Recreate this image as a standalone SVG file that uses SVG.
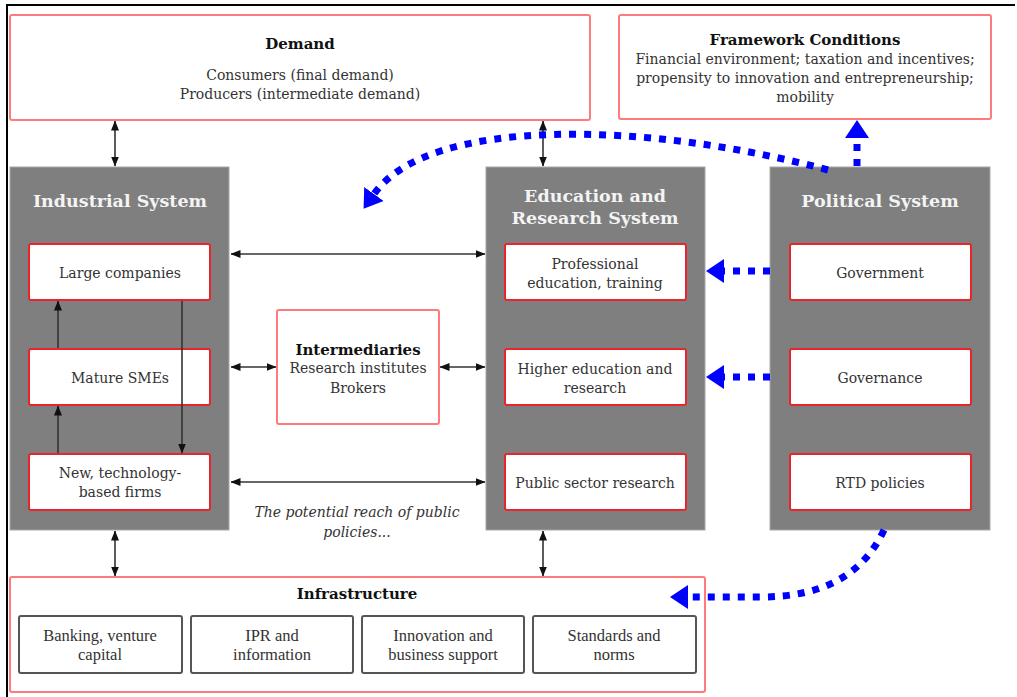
<svg xmlns="http://www.w3.org/2000/svg" width="1017" height="697" viewBox="0 0 1017 697">
<defs>
<style>
.outer{fill:#fff;stroke:#ff7b7b;stroke-width:2}
.grey{fill:#7f7f7f;stroke:#a8a8a8;stroke-width:1}
.inner{fill:#fff;stroke:#e8262a;stroke-width:2}
.infra{fill:#fff;stroke:#555;stroke-width:2}
.t{font-family:"DejaVu Serif","Liberation Serif",serif;font-size:14px;fill:#333;text-anchor:middle;dominant-baseline:central}
.h{font-family:"DejaVu Serif","Liberation Serif",serif;font-size:15px;font-weight:bold;fill:#111;text-anchor:middle;dominant-baseline:central}
.gh{font-family:"DejaVu Serif","Liberation Serif",serif;font-size:17.5px;font-weight:bold;fill:#f4f4f4;text-anchor:middle;dominant-baseline:central}
.it{font-family:"DejaVu Serif","Liberation Serif",serif;font-size:14px;font-style:italic;fill:#333;text-anchor:middle;dominant-baseline:central}
.n{font-family:"Liberation Serif",serif;font-size:16.5px;fill:#333;text-anchor:middle;dominant-baseline:central}
.blk{fill:none;stroke:#333;stroke-width:1.6}
.blue{fill:none;stroke:#0000ff;stroke-width:7;stroke-dasharray:7 8}
</style>
<marker id="ah" markerWidth="10" markerHeight="8" viewBox="0 0 10 8" refX="9.5" refY="4" orient="auto-start-reverse" markerUnits="userSpaceOnUse">
<path d="M0,0 L10,4 L0,8 z" fill="#111"/>
</marker>
<marker id="bh" markerWidth="18" markerHeight="24" viewBox="0 0 18 24" refX="0" refY="12" orient="auto" markerUnits="userSpaceOnUse">
<path d="M0,0 L18,12 L0,24 z" fill="#0000ff"/>
</marker>
</defs>
<rect width="1017" height="697" fill="#fff"/>
<path d="M7,697 V5 H1015" fill="none" stroke="#000" stroke-width="2"/>

<g id="demand">
<rect class="outer" x="10" y="15" width="580" height="105" rx="2"/>
<text class="h" x="300" y="44">Demand</text>
<text class="t" x="300" y="75">Consumers (final demand)</text>
<text class="t" x="300" y="94">Producers (intermediate demand)</text>
</g>

<g id="framework">
<rect class="outer" x="619" y="15" width="372" height="104" rx="2"/>
<text class="h" x="805" y="40">Framework Conditions</text>
<text class="t" x="805" y="59">Financial environment; taxation and incentives;</text>
<text class="t" x="805" y="78">propensity to innovation and entrepreneurship;</text>
<text class="t" x="805" y="97">mobility</text>
</g>

<g id="industrial">
<rect class="grey" x="10" y="167" width="219" height="363"/>
<text class="gh" x="120" y="201">Industrial System</text>
</g>
<g id="large-companies">
<rect class="inner" x="29" y="244" width="181" height="56" rx="2"/>
<text class="t" x="120" y="273">Large companies</text>
</g>
<g id="mature-smes">
<rect class="inner" x="29" y="349" width="181" height="56" rx="2"/>
<text class="t" x="120" y="378">Mature SMEs</text>
</g>
<g id="new-firms">
<rect class="inner" x="29" y="454" width="181" height="56" rx="2"/>
<text class="t" x="120" y="473">New, technology-</text>
<text class="t" x="120" y="492">based firms</text>
</g>

<g id="intermediaries">
<rect class="outer" x="277" y="310" width="162" height="114" rx="2"/>
<text class="h" x="358" y="350">Intermediaries</text>
<text class="t" x="358" y="368">Research institutes</text>
<text class="t" x="358" y="388">Brokers</text>
</g>

<g id="education">
<rect class="grey" x="486" y="167" width="219" height="363"/>
<text class="gh" x="595" y="196">Education and</text>
<text class="gh" x="595" y="218">Research System</text>
</g>
<g id="professional">
<rect class="inner" x="505" y="244" width="181" height="56" rx="2"/>
<text class="t" x="595" y="264">Professional</text>
<text class="t" x="595" y="283">education, training</text>
</g>
<g id="higher-ed">
<rect class="inner" x="505" y="349" width="181" height="56" rx="2"/>
<text class="t" x="595" y="369">Higher education and</text>
<text class="t" x="595" y="388">research</text>
</g>
<g id="public-research">
<rect class="inner" x="505" y="454" width="181" height="56" rx="2"/>
<text class="t" x="595" y="483">Public sector research</text>
</g>

<g id="political">
<rect class="grey" x="770" y="167" width="220" height="363"/>
<text class="gh" x="880" y="201">Political System</text>
</g>
<g id="government">
<rect class="inner" x="790" y="244" width="181" height="56" rx="2"/>
<text class="t" x="880" y="273">Government</text>
</g>
<g id="governance">
<rect class="inner" x="790" y="349" width="181" height="56" rx="2"/>
<text class="t" x="880" y="378">Governance</text>
</g>
<g id="rtd">
<rect class="inner" x="790" y="454" width="181" height="56" rx="2"/>
<text class="t" x="880" y="483">RTD policies</text>
</g>

<g id="note">
<text class="it" x="357" y="512">The potential reach of public</text>
<text class="it" x="357" y="532">policies...</text>
</g>

<g id="infrastructure">
<rect class="outer" x="10" y="577" width="695" height="115" rx="2"/>
<text class="h" x="357" y="594">Infrastructure</text>
</g>
<g id="banking">
<rect class="infra" x="19" y="616" width="163" height="57" rx="2"/>
<text class="n" x="100" y="635">Banking, venture</text>
<text class="n" x="100" y="654">capital</text>
</g>
<g id="ipr">
<rect class="infra" x="191" y="616" width="162" height="57" rx="2"/>
<text class="n" x="272" y="635">IPR and</text>
<text class="n" x="272" y="654">information</text>
</g>
<g id="innovation">
<rect class="infra" x="362" y="616" width="162" height="57" rx="2"/>
<text class="n" x="443" y="635">Innovation and</text>
<text class="n" x="443" y="654">business support</text>
</g>
<g id="standards">
<rect class="infra" x="533" y="616" width="163" height="57" rx="2"/>
<text class="n" x="614" y="635">Standards and</text>
<text class="n" x="614" y="654">norms</text>
</g>

<g id="connectors">
<line class="blk" x1="115" y1="121" x2="115" y2="166" marker-start="url(#ah)" marker-end="url(#ah)"/>
<line class="blk" x1="543" y1="121" x2="543" y2="166" marker-start="url(#ah)" marker-end="url(#ah)"/>
<line class="blk" x1="115" y1="531" x2="115" y2="576" marker-start="url(#ah)" marker-end="url(#ah)"/>
<line class="blk" x1="543" y1="531" x2="543" y2="576" marker-start="url(#ah)" marker-end="url(#ah)"/>
<line class="blk" x1="231" y1="254" x2="485" y2="254" marker-start="url(#ah)" marker-end="url(#ah)"/>
<line class="blk" x1="231" y1="367" x2="276" y2="367" marker-start="url(#ah)" marker-end="url(#ah)"/>
<line class="blk" x1="440" y1="367" x2="485" y2="367" marker-start="url(#ah)" marker-end="url(#ah)"/>
<line class="blk" x1="231" y1="482" x2="485" y2="482" marker-start="url(#ah)" marker-end="url(#ah)"/>
<line class="blk" x1="58" y1="453" x2="58" y2="406" marker-end="url(#ah)"/>
<line class="blk" x1="58" y1="348" x2="58" y2="301" marker-end="url(#ah)"/>
<line class="blk" x1="182" y1="301" x2="182" y2="453" marker-end="url(#ah)"/>

<path class="blue" d="M770,271 H724" marker-end="url(#bh)"/>
<path class="blue" d="M770,377 H724" marker-end="url(#bh)"/>
<path class="blue" d="M857,166 V138" marker-end="url(#bh)"/>
<path class="blue" d="M828,170 C650,122 430,115 374,194" marker-end="url(#bh)"/>
<path class="blue" d="M884,530 C862,577 820,597 760,597 H688" marker-end="url(#bh)"/>
</g>
</svg>
